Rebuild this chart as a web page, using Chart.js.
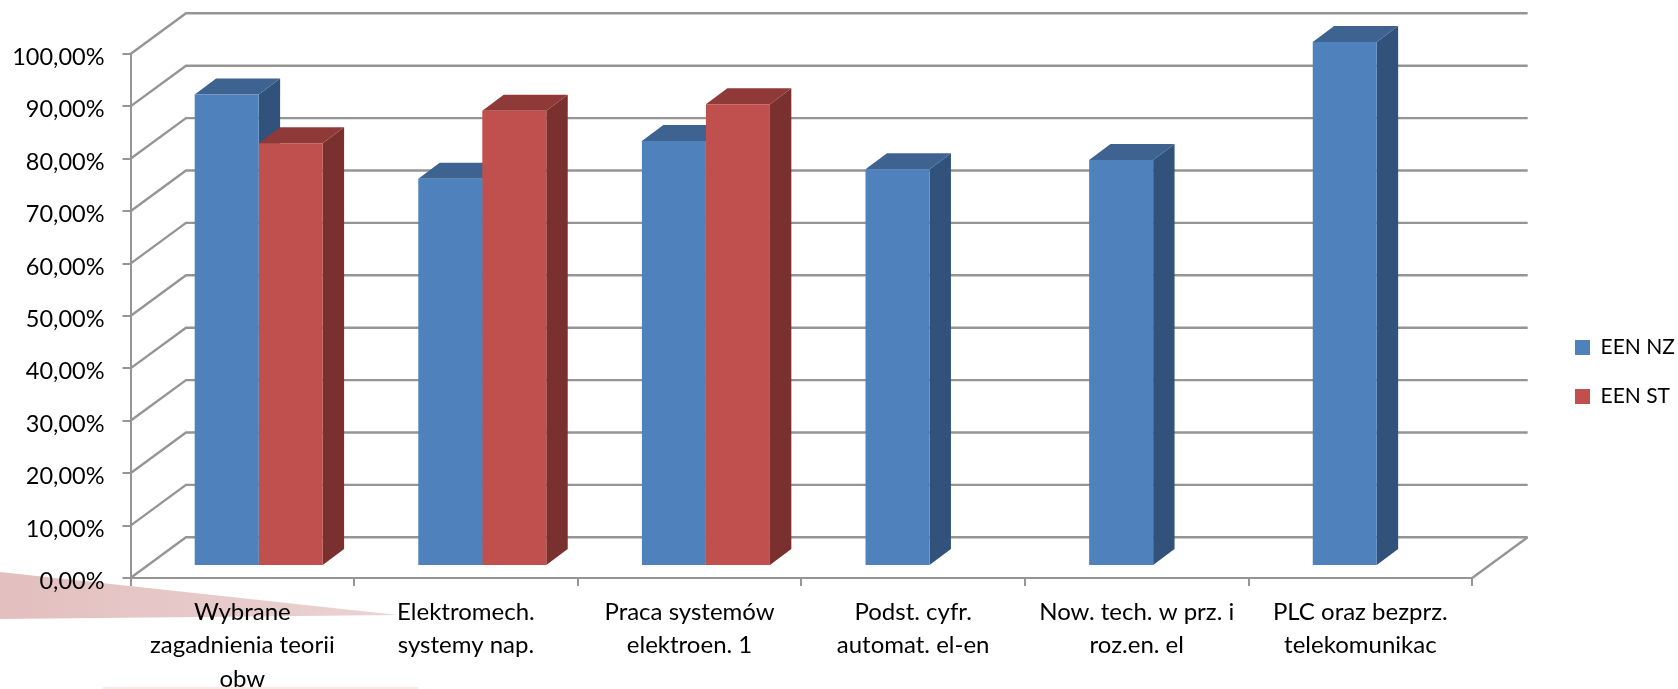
<!DOCTYPE html>
<html>
<head>
<meta charset="utf-8">
<style>
    html, body { margin: 0; padding: 0; background: #fff; }
    canvas { display: block; filter: blur(0.4px); }
</style>
<script src="https://cdn.jsdelivr.net/npm/chart.js@4/dist/chart.umd.min.js"></script>
</head>
<body>
<canvas id="chart" width="1678" height="689"></canvas>
<script>
const categories = [
    ['Wybrane', 'zagadnienia teorii', 'obw'],
    ['Elektromech.', 'systemy nap.'],
    ['Praca systemów', 'elektroen. 1'],
    ['Podst. cyfr.', 'automat. el-en'],
    ['Now. tech. w prz. i', 'roz.en. el'],
    ['PLC oraz bezprz.', 'telekomunikac']
];
const eenNz = [90.0, 73.9, 81.1, 75.7, 77.5, 100];
const eenSt = [80.7, 86.9, 88.1, null, null, null];

const gridColor = '#959595';
const fontName = 'Lato, Carlito, sans-serif';

// fake 3D depth
const wall = { dx: 55.5, dy: -40.7 };
const barShift = { dx: 16.4, dy: -12 };
const barDepth = { dx: 21.4, dy: -16 };
const faces = [
    { top: '#3E6390', side: '#31527A' },
    { top: '#8F3A38', side: '#7A302F' }
];

function fillPoly(ctx, color, pts) {
    ctx.fillStyle = color;
    ctx.beginPath();
    pts.forEach((p, i) => i ? ctx.lineTo(p[0], p[1]) : ctx.moveTo(p[0], p[1]));
    ctx.closePath();
    ctx.fill();
}

const backdrop = {
    id: 'backdrop',
    beforeDraw(chart) {
        // pink slide decoration behind the chart
        const ctx = chart.ctx;
        const g = ctx.createLinearGradient(0, 0, 400, 0);
        g.addColorStop(0, '#E3BFBF');
        g.addColorStop(1, '#EBD3D3');
        fillPoly(ctx, g, [[0, 572], [398, 615], [0, 619]]);
        ctx.fillStyle = '#FBE9E6';
        ctx.fillRect(103, 687, 315, 2);
    }
};

const walls = {
    id: 'walls',
    beforeDatasetsDraw(chart) {
        const ctx = chart.ctx;
        const { x, y } = chart.scales;
        ctx.save();
        ctx.strokeStyle = gridColor;
        ctx.lineWidth = 2.4;
        y.ticks.forEach(t => {
            const py = y.getPixelForValue(t.value);
            ctx.beginPath();
            ctx.moveTo(x.left, py);
            ctx.lineTo(x.left + wall.dx, py + wall.dy);
            ctx.lineTo(x.right + wall.dx, py + wall.dy);
            ctx.stroke();
        });
        const py0 = y.getPixelForValue(0);
        ctx.beginPath();
        ctx.moveTo(x.right, py0);
        ctx.lineTo(x.right + wall.dx, py0 + wall.dy);
        ctx.stroke();
        ctx.restore();

        // sides and tops go first, the library draws the fronts over them
        ctx.save();
        ctx.translate(barShift.dx, barShift.dy);
        chart.data.datasets.forEach((ds, i) => {
            chart.getDatasetMeta(i).data.forEach((bar, j) => {
                if (ds.data[j] === null) return;
                const r = bar.x + bar.width / 2;
                const l = bar.x - bar.width / 2;
                fillPoly(ctx, faces[i].side, [[r, bar.y], [r + barDepth.dx, bar.y + barDepth.dy],
                    [r + barDepth.dx, bar.base + barDepth.dy], [r, bar.base]]);
                fillPoly(ctx, faces[i].top, [[l, bar.y], [l + barDepth.dx, bar.y + barDepth.dy],
                    [r + barDepth.dx, bar.y + barDepth.dy], [r, bar.y]]);
            });
        });
    },
    afterDatasetsDraw(chart) {
        chart.ctx.restore();
    },
    afterLayout(chart) {
        // legend sits lower than the library would centre it
        const lg = chart.legend;
        const w = lg.width;
        lg.left = 1575 - lg.options.labels.padding;
        lg.right = lg.left + w;
        lg.top = 337 - lg.options.labels.padding;
        lg.bottom = lg.top + 200;
    }
};

new Chart(document.getElementById('chart').getContext('2d'), {
    type: 'bar',
    data: {
        labels: categories,
        datasets: [
            { label: 'EEN NZ', data: eenNz, backgroundColor: '#4F81BD' },
            { label: 'EEN ST', data: eenSt, backgroundColor: '#C0504D' }
        ]
    },
    options: {
        responsive: false,
        animation: false,
        categoryPercentage: 0.5725,
        barPercentage: 1,
        layout: { padding: { top: 54, right: 68 } },
        plugins: {
            tooltip: { enabled: false },
            legend: {
                position: 'right',
                align: 'start',
                labels: {
                    boxWidth: 15,
                    boxHeight: 15,
                    padding: 28,
                    color: '#000',
                    font: { family: fontName, size: 21 }
                }
            }
        },
        scales: {
            x: {
                afterFit(s) { s.height = 111; },
                grid: { drawOnChartArea: false, color: gridColor, lineWidth: 2, tickLength: 8 },
                border: { color: gridColor, width: 2 },
                ticks: {
                    color: '#000',
                    maxRotation: 0,
                    autoSkip: false,
                    padding: 9,
                    font: { family: fontName, size: 24, lineHeight: 1.4 }
                }
            },
            y: {
                min: 0,
                max: 100,
                afterFit(s) { s.width = 130.5; },
                grid: { drawOnChartArea: false, color: gridColor, lineWidth: 2, tickLength: 8 },
                border: { color: gridColor, width: 2 },
                ticks: {
                    stepSize: 10,
                    color: '#000',
                    padding: 18,
                    labelOffset: 3.5,
                    font: { family: fontName, size: 23.5 },
                    callback: v => v.toFixed(2).replace('.', ',') + '%'
                }
            }
        }
    },
    plugins: [backdrop, walls]
});
</script>
</body>
</html>
